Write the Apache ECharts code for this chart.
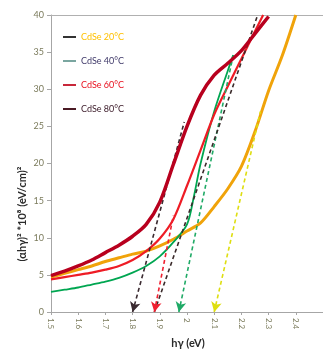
<!DOCTYPE html>
<html><head><meta charset="utf-8">
<script src="https://cdn.jsdelivr.net/npm/echarts@6/dist/echarts.min.js"></script>
<style>html,body{margin:0;padding:0;background:#fff}#c{width:323px;height:349px}</style>
</head><body><div id="c"></div>
<script>
const seriesNames = ['CdSe 20°C', 'CdSe 40°C', 'CdSe 60°C', 'CdSe 80°C'];
const xTicks = [1.5, 1.6, 1.7, 1.8, 1.9, 2.0, 2.1, 2.2, 2.3, 2.4];
const yTicks = [0, 5, 10, 15, 20, 25, 30, 35, 40];

const hv20 = [1.50,1.55,1.60,1.65,1.70,1.75,1.80,1.85,1.90,1.95,2.00,2.05,2.10,2.15,2.20,2.25,2.30,2.35,2.40];
const val20 = [4.7,5.2,5.7,6.2,6.8,7.3,7.8,8.2,8.9,9.8,10.9,12.0,14.2,16.6,19.6,24.3,29.8,34.5,40.0];

const hv40 = [1.50,1.55,1.60,1.65,1.70,1.75,1.80,1.85,1.90,1.95,2.00,2.025,2.05,2.10,2.15,2.17];
const val40 = [2.7,3.0,3.3,3.7,4.1,4.6,5.3,6.2,7.5,9.4,11.8,15.5,20.0,27.0,32.5,34.6];

const hv60 = [1.50,1.55,1.60,1.65,1.70,1.75,1.80,1.85,1.90,1.95,2.00,2.05,2.10,2.15,2.20,2.25,2.28];
const val60 = [4.4,4.7,5.0,5.3,5.7,6.2,7.0,8.2,9.9,12.5,17.0,21.8,26.6,30.4,34.1,37.8,40.0];

const hv80 = [1.50,1.55,1.60,1.65,1.70,1.75,1.80,1.85,1.90,1.95,2.00,2.05,2.10,2.15,2.20,2.25,2.30];
const val80 = [4.9,5.5,6.2,7.0,8.0,9.0,10.2,11.8,14.8,19.9,25.0,29.2,31.9,33.5,35.2,37.5,39.8];

// tangent (extrapolation) lines: [start hv, start value, end hv, end value]
const tan20 = [2.10, 0, 2.27, 27.0];
const tan40 = [1.97, 0, 2.17, 34.6];
const tan60 = [1.88, 0, 2.26, 40.0];
const tan60b = [1.88, 0, 1.95, 13.0];
const tan80 = [1.80, 0, 1.99, 25.6];

const curveColors = ['#f0a30a', '#00a651', '#ee1c25', '#b8001e'];
const curveWidths = [3, 1.8, 2.2, 3.5];
const legendIcon = ['#333333', '#7aa6a0', '#c8283a', '#4a1a24'];
const legendText = ['#ffc000', '#403a6a', '#e8101e', '#40202e'];

function pairs(xs, ys) { return xs.map((x, i) => [x, ys[i]]); }
function ml(t, color, arrowColor, arrow) {
  return [{ coord: [t[0], t[1]], symbol: arrow ? 'arrow' : 'none', symbolSize: [8, 10],
            itemStyle: { color: arrowColor }, lineStyle: { color: color, type: [4, 3], width: 1.6 } },
          { coord: [t[2], t[3]], symbol: 'none' }];
}

const datasets = [pairs(hv20, val20), pairs(hv40, val40), pairs(hv60, val60), pairs(hv80, val80)];
const tangents = [
  [ml(tan20, '#dede10', '#8a8a20', true)],
  [ml(tan40, '#1faa66', '#00b050', true)],
  [ml(tan60, '#3a2a2a', '#e01020', false), ml(tan60b, '#f02030', '#f02030', true)],
  [ml(tan80, '#3a2a30', '#3a2a30', true)]
];

const font = 'Lato, "Liberation Sans", sans-serif';
const chart = echarts.init(document.getElementById('c'), null, { renderer: 'canvas' });
chart.setOption({
  animation: false,
  backgroundColor: '#fff',
  grid: { left: 51, top: 15, right: -6, bottom: 37, containLabel: false },
  legend: {
    orient: 'vertical', left: 58, top: 26, itemWidth: 13, itemHeight: 2, itemGap: 12,
    icon: 'rect', selectedMode: false,
    textStyle: { fontSize: 9, fontFamily: font, lineHeight: 12 },
    data: seriesNames.map((n, i) => ({ name: n, itemStyle: { color: legendIcon[i] },
      textStyle: { color: legendText[i], fontSize: 9, fontFamily: font } }))
  },
  xAxis: [{
    type: 'value', min: 1.5, max: 2.5, interval: 0.1,
    axisLine: { lineStyle: { color: '#a6a6a6', width: 1 } },
    axisTick: { show: true, length: 3, lineStyle: { color: '#a6a6a6' } },
    splitLine: { show: false },
    axisLabel: { rotate: -90, fontSize: 8, color: '#7b7b5c', fontFamily: font, margin: 6,
      customValues: xTicks },
  }, {
    type: 'value', position: 'top', min: 1.5, max: 2.5,
    axisLine: { show: true, lineStyle: { color: '#b0b0b0' } },
    axisTick: { show: false }, axisLabel: { show: false }, splitLine: { show: false }
  }],
  yAxis: {
    type: 'value', min: 0, max: 40, interval: 5,
    axisLine: { show: true, lineStyle: { color: '#a6a6a6' } },
    axisTick: { show: true, length: 4, lineStyle: { color: '#a6a6a6' } },
    splitLine: { show: false },
    axisLabel: { fontSize: 9, color: '#7b7b5c', fontFamily: font, margin: 7, customValues: yTicks }
  },
  graphic: [
    { type: 'text', x: 22, y: 214, rotation: Math.PI / 2,
      style: { text: '(αhγ)² *10⁸ (eV/cm)²', font: 'bold 11px ' + font, fill: '#2a2a2a',
               align: 'center', verticalAlign: 'middle' } },
    { type: 'text', x: 188, y: 343,
      style: { text: 'hγ (eV)', font: 'bold 11px ' + font, fill: '#2a2a2a',
               align: 'center', verticalAlign: 'middle' } }
  ],
  series: seriesNames.map((n, i) => ({
    name: n, type: 'line', data: datasets[i], smooth: 0.3,
    showSymbol: false, symbol: 'none',
    lineStyle: { color: curveColors[i], width: curveWidths[i] },
    itemStyle: { color: curveColors[i] },
    z: 2 + i,
    markLine: { silent: true, animation: false, label: { show: false }, symbol: ['arrow', 'none'],
      emphasis: { disabled: true }, data: tangents[i] }
  }))
});
</script></body></html>
